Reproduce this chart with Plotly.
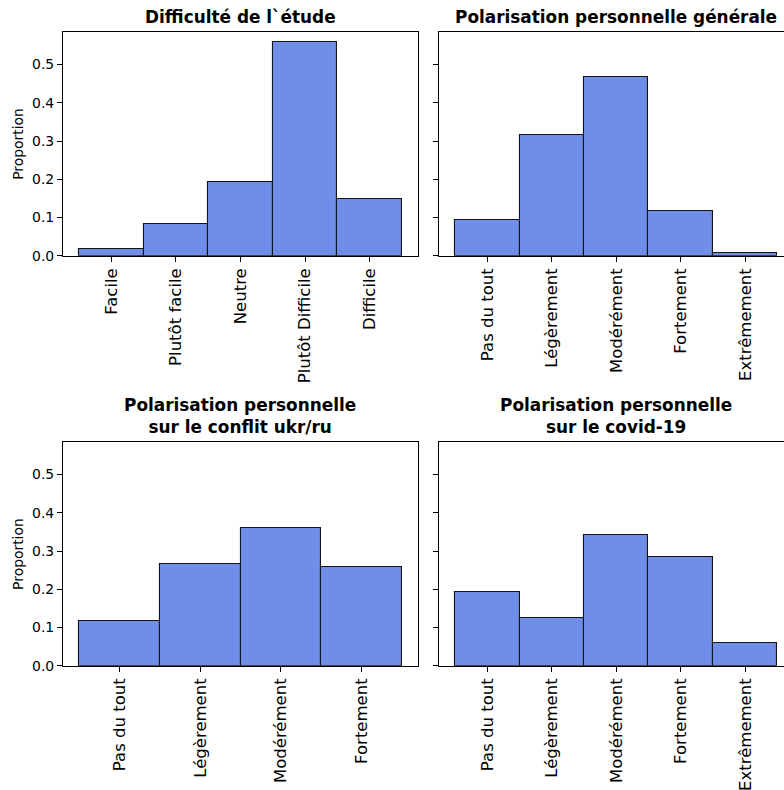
import plotly.graph_objects as go

# ---- data ----
difficulte_labels = ["Facile", "Plutôt facile", "Neutre", "Plutôt Difficile", "Difficile"]
difficulte_values = [0.017, 0.083, 0.192, 0.559, 0.149]

polar_labels5 = ["Pas du tout", "Légèrement", "Modérément", "Fortement", "Extrêmement"]
polar_generale_values = [0.093, 0.316, 0.466, 0.117, 0.008]

polar_labels4 = ["Pas du tout", "Légèrement", "Modérément", "Fortement"]
polar_ukr_values = [0.116, 0.266, 0.360, 0.258]

polar_covid_values = [0.192, 0.124, 0.341, 0.285, 0.058]

titles = [
    "Difficulté de l`étude",
    "Polarisation personnelle générale",
    "Polarisation personnelle<br>sur le conflit ukr/ru",
    "Polarisation personnelle<br>sur le covid-19",
]

W, H = 784, 800
VS = 800 / 790  # vertical compensation
FONT = "DejaVu Sans"
FILL = "#708EE8"
EDGE = "#141414"
YMAX = 0.585

fig = go.Figure()

panels = [
    dict(labels=difficulte_labels, values=difficulte_values, px=(63, 418), py=(32, 255), left=True),
    dict(labels=polar_labels5, values=polar_generale_values, px=(439, 793.5), py=(32, 255), left=False),
    dict(labels=polar_labels4, values=polar_ukr_values, px=(63, 418), py=(441, 664), left=True),
    dict(labels=polar_labels5, values=polar_covid_values, px=(439, 793.5), py=(441, 664), left=False),
]

for i, p in enumerate(panels):
    n = len(p["labels"])
    idx = "" if i == 0 else str(i + 1)
    xa, ya = "x" + idx, "y" + idx
    fig.add_trace(go.Bar(
        x=list(range(n)), y=p["values"], width=1.0,
        marker=dict(color=FILL, line=dict(color=EDGE, width=1.1)),
        xaxis=xa, yaxis=ya, showlegend=False, hoverinfo="skip",
    ))
    lo, hi = -0.5 - 0.05 * n, n - 0.5 + 0.05 * n
    x0px, x1px = p["px"]
    span = hi - lo
    vis_hi = hi
    d1 = x1px / W
    if x1px > W:
        vis_hi = lo + span * (W - x0px) / (x1px - x0px)
        d1 = 1.0
    xdom = [x0px / W, d1]
    ydom = [1 - p["py"][1] * VS / H, 1 - p["py"][0] * VS / H]
    xkey = "xaxis" + idx
    ykey = "yaxis" + idx
    fig.update_layout(**{
        xkey: dict(
            domain=xdom, range=[lo, vis_hi], anchor=ya,
            tickmode="array", tickvals=list(range(n)), ticktext=p["labels"],
            tickangle=-90, ticks="outside", ticklen=5, tickwidth=1.1, tickcolor="black",
            showline=True, linecolor="black", linewidth=1.1, mirror=True,
            showgrid=False, zeroline=False,
            tickfont=dict(family=FONT, size=16.5, color="black"),
        ),
        ykey: dict(
            domain=ydom, range=[0, YMAX], anchor=xa,
            tickmode="array", tickvals=[0, 0.1, 0.2, 0.3, 0.4, 0.5],
            ticktext=["0.0", "0.1", "0.2", "0.3", "0.4", "0.5"] if p["left"] else [""] * 6,
            showticklabels=p["left"],
            ticks="outside", ticklen=5, tickwidth=1.1, tickcolor="black",
            showline=True, linecolor="black", linewidth=1.1, mirror=p["left"],
            showgrid=False, zeroline=False,
            tickfont=dict(family=FONT, size=13.9, color="black"),
        ),
    })
    cx = (x0px + x1px) / 2 / W
    fig.add_annotation(
        x=cx, y=ydom[1], xref="paper", yref="paper",
        text="<b>" + titles[i] + "</b>", showarrow=False,
        xanchor="center", yanchor="bottom", yshift=3,
        font=dict(family=FONT, size=16.9, color="black"), align="center",
    )
    if p["left"]:
        fig.add_annotation(
            x=18 / W, y=(ydom[0] + ydom[1]) / 2, xref="paper", yref="paper",
            text="Proportion", showarrow=False, textangle=-90,
            xanchor="center", yanchor="middle",
            font=dict(family=FONT, size=13.9, color="black"),
        )

fig.update_layout(
    width=W, height=H,
    margin=dict(l=0, r=0, t=0, b=0),
    paper_bgcolor="white", plot_bgcolor="white",
    bargap=0, showlegend=False,
)

fig.write_html(
    "out.html",
    config={"displayModeBar": False},
    post_script="document.body.style.margin='0';document.body.style.overflow='hidden';",
)
